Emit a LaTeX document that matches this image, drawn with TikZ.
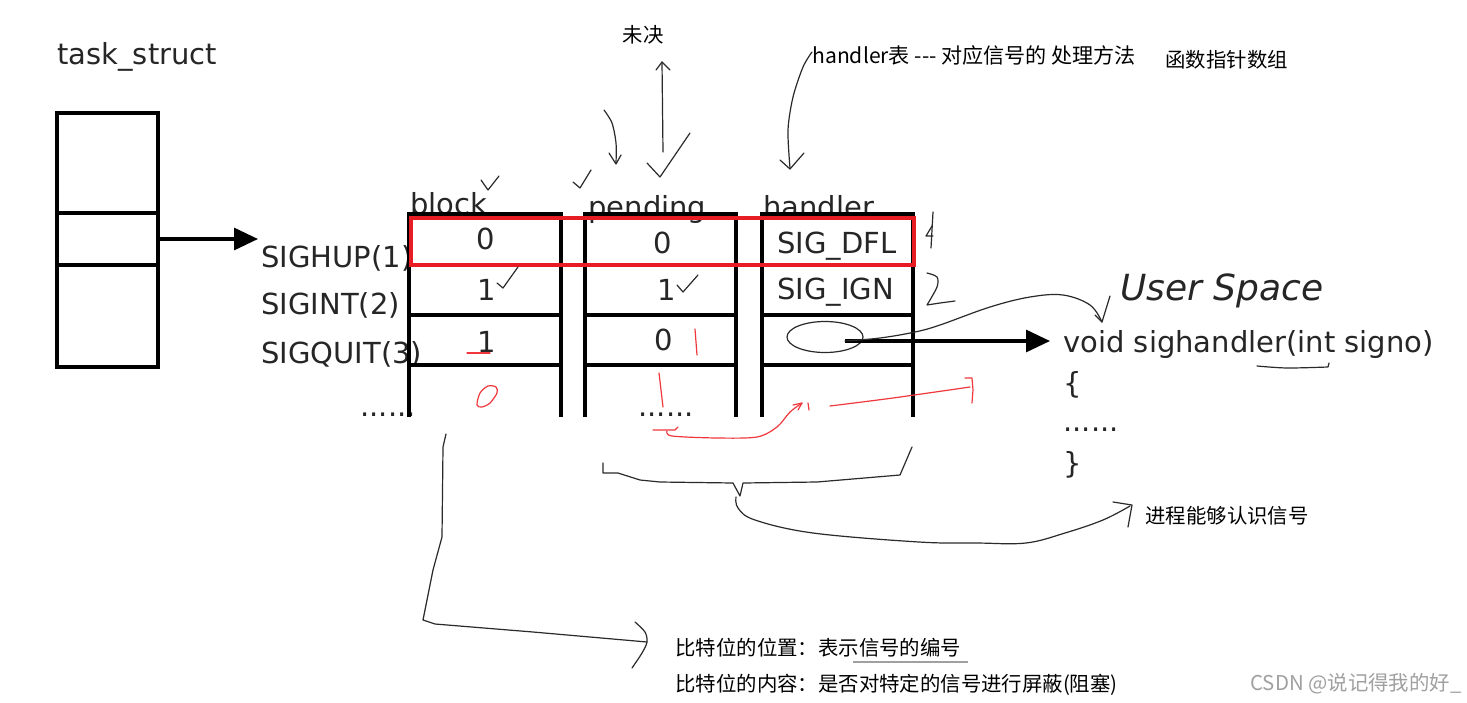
\documentclass[tikz,border=0pt]{standalone}
\usepackage{fontspec}
\setmainfont{DejaVu Sans}
\newfontfamily\cjk{Noto Sans CJK SC}
\usetikzlibrary{arrows.meta,shapes.geometric}
\definecolor{ink}{HTML}{262626}
\definecolor{redbox}{HTML}{E81C24}
\definecolor{pen}{HTML}{2A2A2A}
\definecolor{redpen}{HTML}{F0383C}
\definecolor{mark}{HTML}{A0A0A0}
\begin{document}
\begin{tikzpicture}[x=0.5pt,y=-0.5pt,
  lbl/.style={inner sep=0pt,font=\fontsize{14.5}{17}\selectfont,text=ink},
  zh/.style={inner sep=0pt,font=\cjk\fontsize{10.2}{12}\selectfont,text=black},
  boxline/.style={line width=1.6pt,draw=black},
  tab/.style={line width=1.9pt,draw=black,line join=miter},
  bigarrow/.style={line width=1.6pt,draw=black,-{Triangle[length=12pt,width=11pt]}},
  hand/.style={draw=pen,line width=0.6pt,line cap=round,line join=round},
  redhand/.style={draw=redpen,line width=0.6pt,line cap=round,line join=round},
]
\useasboundingbox (0,0) rectangle (1467,702);
\fill[white] (0,0) rectangle (1467,702);

% task_struct
\node[lbl,anchor=base west] (ts) at (57,64) {task\_struct};
\draw[boxline] (57,113) rectangle (158,367);
\draw[boxline] (57,213) -- (158,213);
\draw[boxline] (57,265) -- (158,265);
\coordinate (tsmid) at (158,239);

% signal labels
\node[lbl,anchor=base west] (sighup) at (261,267) {SIGHUP(1)};
\node[lbl,anchor=base west] (sigint) at (261,314) {SIGINT(2)};
\node[lbl,anchor=base west] (sigquit) at (261,363) {SIGQUIT(3)};
\node[lbl,anchor=base west] (dotsl) at (360,416) {......};
\draw[bigarrow,shorten >=1.5pt] (tsmid) -- (tsmid -| sighup.west);

% headers
\node[lbl,anchor=base west] (hblock) at (410,214) {block};
\node[lbl,anchor=base west] (hpend) at (588,217) {pending};
\node[lbl,anchor=base west] (hhand) at (763,217) {handler};

% values
\node[lbl,anchor=base] (b1) at (486,249) {0};
\node[lbl,anchor=base] (b2) at (487,300) {1};
\node[lbl,anchor=base] (b3) at (487,352) {1};
\node[lbl,anchor=base] (p1) at (663,253) {0};
\node[lbl,anchor=base] (p2) at (667,300) {1};
\node[lbl,anchor=base] (p3) at (664,350) {0};
\node[lbl,anchor=base west] (h1) at (777,253) {SIG\_DFL};
\node[lbl,anchor=base west] (h2) at (777,299) {SIG\_IGN};
\node[lbl,anchor=base west] (dotsp) at (638,416) {......};

% table columns
\foreach \L/\R in {409/561,585/736,762/913}{
  \draw[tab] (\L,417) -- (\L,214) -- (\R,214) -- (\R,417);
  \draw[tab] (\L,265) -- (\R,265);
  \draw[tab] (\L,315) -- (\R,315);
  \draw[tab] (\L,365) -- (\R,365);
}
\draw[redbox,line width=2pt] (411,218) rectangle (914,265);

% user space
\node[lbl,anchor=base west,font=\itshape\fontsize{18}{20}\selectfont] (us) at (1120,300) {User Space};
\node[lbl,anchor=base west] (void) at (1063,352) {void sighandler(int signo)};
\node[lbl,anchor=base west] (lb) at (1063,393) {\{};
\node[lbl,anchor=base west] (dotsu) at (1063,431) {......};
\node[lbl,anchor=base west] (rb) at (1063,473) {\}};

% oval and arrow to handler
\node[ellipse,draw=pen,line width=0.6pt,minimum width=38pt,minimum height=15.5pt,inner sep=0pt] (oval) at (825,337) {};
\coordinate (ovalin) at (845,341);
\draw[bigarrow,shorten >=6.5pt] (ovalin) -- (ovalin -| void.west);
\coordinate (ustip) at (1102,322);
\draw[hand] plot[smooth,tension=0.6] coordinates {(845,341) (880,338) (915,332) (940,325) (990,307) (1030,297) (1063,295) (1090,305) (1102,322)};
\draw[hand] (1095,315) -- (ustip) -- (1110,296);
\draw[hand] plot[smooth] coordinates {(1257,366) (1287,368) (1328,367)} -- (1329,363);

% top annotations
\node[zh] (weijue) at (643,35) {未决};
\node[zh,anchor=west,font=\cjk\fontsize{10.55}{12}\selectfont] (htab) at (812,55) {handler表 --- 对应信号的 处理方法};
\node[zh,anchor=west] (fnarr) at (1165,60) {函数指针数组};
\coordinate (wjfoot) at (663,152);
\coordinate (wjtop) at (662,62);
\draw[hand] (wjfoot) -- (wjtop);
\draw[hand] (656,70) -- (wjtop) -- (670,70);
\draw[hand] (647,163) -- (660,177) -- (690,133);
\draw[hand] plot[smooth] coordinates {(604,110) (612,123) (616,143) (616,163)};
\draw[hand] (609,153) -- (616,164) -- (621,155);
\draw[hand] (573,182) -- (580,188) -- (591,170);
\draw[hand] (481,180) -- (488,190) -- (499,176);
\draw[hand] plot[smooth] coordinates {(812,52) (803,67) (793,97) (788,130) (790,168)};
\draw[hand] (780,160) -- (790,169) -- (804,153);

% row check marks and numbers
\draw[hand] (497,283) -- (503,288) -- (518,267);
\draw[hand] (677,285) -- (683,292) -- (698,275);
\draw[hand] (933,212) -- (931,248);
\draw[hand] (932,226) -- (926,236) -- (933,236);
\draw[hand] plot[smooth,tension=0.5] coordinates {(927,273) (937,277) (937,287) (927,305)} -- (940,303) -- (955,301);

% red marks
\draw[redhand] (467,353) -- (490,353);
\draw[redhand] plot[smooth cycle] coordinates {(477,405) (480,393) (488,386) (496,387) (497,393) (490,403) (482,407)};
\draw[redhand] (695,329) -- (697,355);
\draw[redhand] (659,373) -- (663,407);
\draw[redhand] (653,430) -- (675,430) -- (678,427);
\draw[redhand] plot[smooth] coordinates {(667,431) (672,436) (717,438) (757,437) (777,427) (790,412) (802,403)};
\draw[redhand] (793,405) -- (802,403) -- (798,410);
\draw[redhand] (808,403) -- (809,410);
\draw[redhand] plot[smooth] coordinates {(830,406) (893,398) (970,387)};
\draw[redhand] (965,378) -- (972,378) -- (973,390) -- (972,403);

% bottom brackets
\node[zh,anchor=west] (recog) at (1145,516) {进程能够认识信号};
\draw[hand] (603,463) -- (603,473) -- (618,473) -- (640,480) -- (660,482) -- (733,483) -- (740,496) -- (743,483) -- (817,482) -- (900,475) -- (912,447);
\draw[hand] plot[smooth,tension=0.6] coordinates {(736,497) (738,508) (755,520) (813,533) (919,542) (977,543) (1026,543) (1065,533) (1103,520) (1130,506)};
\draw[hand] (1113,502) -- (1132,505) -- (1128,527);

\node[zh,anchor=west] (pos) at (675,648) {比特位的位置：表示信号的编号};
\node[zh,anchor=west] (cont) at (675,685) {比特位的内容：是否对特定的信号进行屏蔽(阻塞)};
\draw[draw=mark,line width=0.8pt] (853,662) -- (968,662);
\draw[hand] (446,434) -- (443,447) -- (442,537) -- (433,570) -- (423,620) -- (435,624) -- (533,632) -- (647,642);
\draw[hand] plot[smooth] coordinates {(635,622) (645,632) (647,642) (642,653) (632,668)};

\node[zh,anchor=west,text=mark] (csdn) at (1250,684) {CSDN @说记得我的好\_};
\end{tikzpicture}
\end{document}
